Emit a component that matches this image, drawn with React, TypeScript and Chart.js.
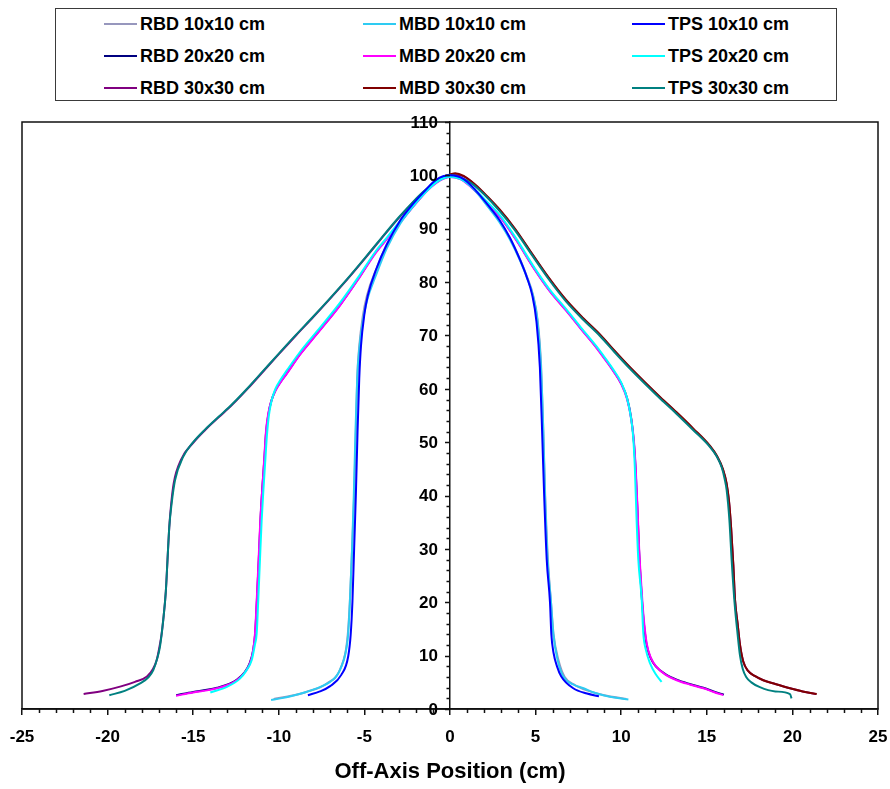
import React, { useEffect, useRef } from 'react';
import { Chart, registerables } from 'chart.js';

Chart.register(...registerables);

const FONT = "'Liberation Sans', Arial, Helvetica, sans-serif";

// ---- axes / tick labels ----
const xTickStep = 5;
const xMin = -25;
const xMax = 25;
const yTickStep = 10;
const yMin = 0;
const yMax = 110;
const xTitle = 'Off-Axis Position (cm)';

// ---- series (x cm, relative dose %) ----
const rbd10: [number, number][] = [
  [-10.3, 1.9], [-9.4, 2.4], [-8.4, 3.2], [-7.2, 4.8], [-6.4, 7.6], [-6.0, 13], [-5.85, 20], [-5.72, 30], [-5.6, 40],
  [-5.5, 52], [-5.42, 62], [-5.3, 68], [-5.1, 73.5], [-4.85, 77.5], [-4.3, 82.5], [-3.7, 87], [-2.9, 91.5], [-2.2, 94.4],
  [-1.5, 96.9], [-0.8, 99], [0, 100], [0.8, 99.1], [1.5, 97], [2.2, 94.3], [2.9, 91.4], [3.5, 88.2], [4.1, 84.2],
  [4.5, 81.0], [4.85, 77.6], [5.12, 72.8], [5.32, 64.5], [5.46, 51], [5.56, 40], [5.72, 28], [5.9, 20], [6.05, 14],
  [6.35, 9], [6.7, 6], [7.3, 4.5], [8.0, 3.5], [9.0, 2.6], [10.3, 1.9],
];
const mbd10: [number, number][] = [
  [-10.45, 1.7], [-9.9, 2.0], [-9.3, 2.4], [-8.4, 3.2], [-7.6, 4.1], [-7.0, 5.1], [-6.6, 6.3], [-6.35, 7.9], [-6.1, 10.5],
  [-5.95, 14], [-5.85, 20], [-5.72, 30], [-5.62, 40], [-5.52, 52], [-5.42, 62], [-5.3, 67.5], [-5.1, 72.5], [-4.85, 76.5],
  [-4.3, 81.5], [-3.7, 86.3], [-2.9, 91], [-2.2, 94], [-1.5, 96.6], [-0.8, 98.7], [0, 99.7], [0.8, 99], [1.5, 97],
  [2.2, 94.2], [2.9, 91.2], [3.5, 88], [4.1, 84], [4.5, 80.8], [4.85, 77.4], [5.1, 73], [5.3, 65], [5.45, 52], [5.55, 40],
  [5.7, 28], [5.9, 20], [6.03, 14.2], [6.3, 9], [6.62, 6.1], [7.2, 4.6], [7.8, 3.9], [8.4, 3.1], [8.95, 2.6], [9.7, 2.1],
  [10.42, 1.8],
];
const tps10: [number, number][] = [
  [-8.3, 2.6], [-7.6, 3.3], [-7.0, 4.3], [-6.35, 6.4], [-5.95, 9.8], [-5.8, 14], [-5.7, 20], [-5.6, 30], [-5.5, 40],
  [-5.4, 52], [-5.3, 62], [-5.2, 68], [-5.0, 74], [-4.8, 77.5], [-4.3, 82.5], [-3.7, 87], [-2.9, 91.6], [-2.2, 94.5],
  [-1.5, 97], [-0.8, 99.2], [0, 100], [0.8, 99.3], [1.5, 97.2], [2.2, 94.5], [2.9, 91.6], [3.5, 88.3], [4.1, 84.1],
  [4.5, 80.8], [4.8, 77.6], [5.05, 72.6], [5.25, 64], [5.4, 50], [5.5, 40], [5.65, 28], [5.84, 20], [5.92, 14],
  [6.05, 10.5], [6.25, 8], [6.5, 6.1], [7.2, 3.9], [8.0, 2.9], [8.7, 2.4],
];
const rbd20: [number, number][] = [
  [-16.0, 2.6], [-15.0, 3.2], [-14.2, 3.6], [-13.6, 4.0], [-12.9, 4.7], [-12.46, 5.5], [-12.0, 6.9], [-11.7, 8.6],
  [-11.5, 11], [-11.38, 14.2], [-11.28, 20.4], [-11.17, 28], [-11.07, 35.4], [-10.95, 42], [-10.84, 47], [-10.74, 52],
  [-10.6, 55.4], [-10.44, 57.7], [-10.2, 59.7], [-9.9, 61.3], [-9.54, 62.9], [-8.76, 66.5], [-7.79, 70.3], [-6.43, 75.7],
  [-5.3, 80.9], [-4.38, 85.4], [-3.7, 88.1], [-2.9, 91.3], [-2.0, 94.8], [-1.3, 97.3], [-0.6, 99.1], [0, 99.8],
  [0.6, 99.4], [1.3, 97.7], [2.0, 95.5], [2.92, 92.3], [3.9, 87.8], [4.87, 82.8], [5.8, 78.5], [6.82, 74.6], [7.7, 71.1],
  [8.57, 67.7], [9.1, 65.4], [9.54, 63.4], [10.0, 61.0], [10.35, 58.2], [10.6, 54.2], [10.74, 50], [10.84, 45],
  [10.94, 38], [11.04, 30], [11.18, 22], [11.27, 18], [11.47, 12.3], [11.73, 9.5], [12.05, 7.9], [12.6, 6.5],
  [13.24, 5.5], [14.0, 4.7], [14.8, 4.0], [15.4, 3.3], [16.0, 2.7],
];
const mbd20: [number, number][] = [
  [-16.0, 2.5], [-15.0, 3.1], [-14.2, 3.5], [-13.6, 3.9], [-12.9, 4.6], [-12.46, 5.4], [-12.0, 6.8], [-11.68, 8.6],
  [-11.5, 11], [-11.39, 14.2], [-11.29, 20.4], [-11.18, 28], [-11.08, 35.4], [-10.95, 42], [-10.85, 47], [-10.75, 52],
  [-10.62, 55.3], [-10.45, 57.6], [-10.2, 59.6], [-9.9, 61.2], [-9.54, 62.8], [-8.76, 66.4], [-7.79, 70.2],
  [-6.43, 75.6], [-5.3, 80.8], [-4.38, 85.3], [-3.7, 88], [-2.9, 91.2], [-2.0, 94.7], [-1.3, 97.2], [-0.6, 99],
  [0, 99.7], [0.6, 99.3], [1.3, 97.6], [2.0, 95.4], [2.92, 92.2], [3.9, 87.7], [4.87, 82.7], [5.8, 78.4], [6.82, 74.5],
  [7.7, 71], [8.57, 67.6], [9.1, 65.3], [9.54, 63.3], [10.0, 60.9], [10.35, 58], [10.6, 54], [10.75, 50], [10.85, 45],
  [10.95, 38], [11.05, 30], [11.2, 22], [11.29, 18], [11.49, 12.3], [11.75, 9.5], [12.07, 7.9], [12.6, 6.4],
  [13.24, 5.4], [14.0, 4.6], [14.8, 3.9], [15.4, 3.2], [15.96, 2.6],
];
const tps20: [number, number][] = [
  [-14.0, 3.1], [-13.0, 4.2], [-12.27, 5.7], [-11.9, 7.2], [-11.58, 9.2], [-11.4, 12], [-11.29, 14.2], [-11.2, 20.4],
  [-11.1, 28], [-11.0, 35.4], [-10.9, 41], [-10.8, 46], [-10.7, 51], [-10.58, 55], [-10.42, 57.8], [-10.2, 60],
  [-9.9, 61.7], [-9.54, 63.4], [-8.76, 66.9], [-7.79, 70.7], [-6.43, 76.1], [-5.3, 81.2], [-4.38, 85.6], [-3.7, 88.3],
  [-2.9, 91.5], [-2.0, 94.9], [-1.3, 97.3], [-0.6, 99.2], [0, 99.8], [0.6, 99.4], [1.3, 97.8], [2.0, 95.6],
  [2.92, 92.5], [3.9, 88], [4.87, 83], [5.8, 78.7], [6.82, 74.8], [7.7, 71.3], [8.57, 67.9], [9.1, 65.6], [9.54, 63.6],
  [10.0, 61.2], [10.32, 58.5], [10.55, 55], [10.7, 51], [10.8, 45], [10.9, 35.4], [11.0, 28], [11.2, 20.4],
  [11.29, 14.2], [11.45, 11], [11.68, 8.6], [12.0, 6.6], [12.36, 5.1],
];
const rbd30: [number, number][] = [
  [-21.4, 2.8], [-20.3, 3.4], [-19.27, 4.2], [-18.4, 5.1], [-17.7, 6.1], [-17.35, 7.5], [-17.13, 9.2], [-16.95, 12],
  [-16.84, 14.2], [-16.75, 16.7], [-16.6, 22], [-16.5, 28], [-16.4, 34], [-16.3, 38], [-16.14, 42.3], [-15.7, 46.8],
  [-15.0, 49.9], [-14.3, 52.3], [-13.5, 54.7], [-12.7, 57.1], [-11.8, 60.1], [-10.9, 63.3], [-10.0, 66.5],
  [-9.0, 70.0], [-8.0, 73.4], [-7.0, 76.9], [-6.0, 80.5], [-5.0, 84.3], [-4.0, 88.2], [-3.0, 92.0], [-2.2, 94.8],
  [-1.5, 97.0], [-0.8, 98.9], [0, 100.1], [0.8, 99.8], [1.5, 98.1], [2.2, 95.9], [2.9, 93.5], [3.8, 89.9], [4.8, 85.2],
  [5.8, 80.6], [6.8, 76.5], [7.8, 73.1], [8.76, 70.1], [9.6, 67.1], [10.5, 64.0], [11.4, 61.1], [12.3, 58.3],
  [13.24, 55.5], [14.2, 52.5], [15.19, 49.2], [15.6, 47.3], [15.95, 44.8], [16.15, 42.3], [16.3, 38.8], [16.42, 34],
  [16.55, 27], [16.65, 20.4], [16.8, 16], [16.94, 12], [17.13, 8.9], [17.4, 7.2], [17.8, 6.2], [18.3, 5.4],
  [19.0, 4.7], [19.86, 3.9], [20.6, 3.3], [21.4, 2.8],
];
const mbd30: [number, number][] = [
  [0, 100.2], [0.3, 100.4], [0.8, 99.9], [1.5, 98.2], [2.2, 96.0], [2.9, 93.6], [3.8, 90.0], [4.8, 85.3], [5.8, 80.7],
  [6.8, 76.6], [7.8, 73.2], [8.76, 70.2], [9.6, 67.2], [10.5, 64.1], [11.4, 61.2], [12.3, 58.4], [13.24, 55.6],
  [14.2, 52.6], [15.19, 49.3], [15.6, 47.4], [15.95, 44.9], [16.15, 42.4], [16.3, 38.9], [16.42, 34], [16.55, 27],
  [16.65, 20.4], [16.8, 16], [16.94, 12], [17.13, 8.9], [17.4, 7.2], [17.8, 6.2], [18.3, 5.4], [19.0, 4.7],
  [19.86, 3.9], [20.6, 3.3], [21.42, 2.8],
];
const tps30: [number, number][] = [
  [-19.9, 2.6], [-19.0, 3.4], [-18.1, 4.8], [-17.6, 6], [-17.33, 7.3], [-17.1, 9.5], [-16.94, 11.7], [-16.75, 16.7],
  [-16.6, 22], [-16.5, 28], [-16.4, 34], [-16.26, 38.5], [-16.06, 42.9], [-15.58, 47.3], [-15.0, 50.0], [-14.3, 52.4],
  [-13.5, 54.8], [-12.7, 57.2], [-11.8, 60.2], [-10.9, 63.4], [-10.0, 66.6], [-9.0, 70.1], [-8.0, 73.5], [-7.0, 77.0],
  [-6.0, 80.6], [-5.0, 84.4], [-4.0, 88.3], [-3.0, 92.1], [-2.2, 94.9], [-1.5, 97.1], [-0.8, 98.9], [0, 100],
  [0.6, 99.6], [1.3, 98.4], [2.0, 96.4], [2.9, 93.3], [3.8, 89.7], [4.8, 85.0], [5.8, 80.4], [6.8, 76.3], [7.8, 72.9],
  [8.76, 69.9], [9.6, 66.9], [10.5, 63.8], [11.4, 60.9], [12.3, 58.1], [13.24, 55.3], [14.2, 52.3], [15.19, 49.1],
  [15.55, 47.5], [15.87, 45.3], [16.05, 43], [16.16, 41], [16.32, 35.4], [16.45, 28], [16.62, 20], [16.8, 14],
  [16.94, 10], [17.1, 7.5], [17.3, 6.0], [17.6, 5.0], [18.1, 4.1], [19.0, 3.3], [19.86, 2.8], [19.95, 2.0],
];

const seriesNames = [
  'RBD 10x10 cm', 'MBD 10x10 cm', 'TPS 10x10 cm',
  'RBD 20x20 cm', 'MBD 20x20 cm', 'TPS 20x20 cm',
  'RBD 30x30 cm', 'MBD 30x30 cm', 'TPS 30x30 cm',
];
const seriesColors = [
  '#9797bd', '#2ecbf2', '#0000ff',
  '#000080', '#ff00ff', '#00ffff',
  '#800080', '#800000', '#008080',
];
const seriesPoints = [rbd10, mbd10, tps10, rbd20, mbd20, tps20, rbd30, mbd30, tps30];
// lower order = drawn on top
const seriesOrder = [2, 1, 0, 2, 1, 0, 2, 1, 0];

const framePlugin = {
  id: 'frameAndTicks',
  afterDraw(chart: any) {
    const { ctx, chartArea: a, scales } = chart;
    const xs = scales.x;
    const ys = scales.y;
    ctx.save();
    ctx.strokeStyle = '#111';
    ctx.lineWidth = 1.5;
    ctx.strokeRect(a.left, a.top, a.right - a.left, a.bottom - a.top);
    ctx.beginPath();
    for (let v = xMin; v <= xMax; v += 1) {
      if (v % xTickStep === 0) continue;
      const px = Math.round(xs.getPixelForValue(v)) + 0.5;
      ctx.moveTo(px, a.bottom);
      ctx.lineTo(px, a.bottom + 4);
    }
    const x0 = xs.getPixelForValue(0);
    for (let v = yMin; v <= yMax; v += 2) {
      const py = Math.round(ys.getPixelForValue(v)) + 0.5;
      const len = v % yTickStep === 0 ? 5 : 3.5;
      ctx.moveTo(x0 - len, py);
      ctx.lineTo(x0, py);
    }
    ctx.stroke();
    // y tick labels, left of the centred y axis
    ctx.fillStyle = '#000';
    ctx.font = `bold 17px ${FONT}`;
    ctx.textAlign = 'right';
    ctx.textBaseline = 'middle';
    ys.ticks.forEach((t: any) => {
      ctx.fillText(String(t.label ?? t.value), x0 - 12, ys.getPixelForValue(t.value) + 1);
    });
    ctx.restore();
  },
};

function Legend() {
  const colX = [104, 363, 632];
  const rowY = [24, 56, 88];
  return (
    <div
      style={{
        position: 'absolute', left: 55, top: 8, width: 782, height: 93,
        border: '1px solid #3a3a3a', boxSizing: 'border-box', background: '#fff',
      }}
    >
      {seriesNames.map((name, i) => {
        const c = i % 3;
        const r = Math.floor(i / 3);
        return (
          <div
            key={name}
            style={{
              position: 'absolute', left: colX[c] - 56, top: rowY[r] - 9 - 11, height: 22,
              display: 'flex', alignItems: 'center', whiteSpace: 'nowrap',
            }}
          >
            <span style={{ display: 'inline-block', width: 33, height: 2, background: seriesColors[i], marginRight: 3 }} />
            <span style={{ fontFamily: FONT, fontWeight: 'bold', fontSize: 18, color: '#000', lineHeight: '22px' }}>{name}</span>
          </div>
        );
      })}
    </div>
  );
}

export default function App() {
  const ref = useRef<HTMLCanvasElement>(null);
  useEffect(() => {
    const chart = new Chart(ref.current as HTMLCanvasElement, {
      type: 'scatter',
      data: {
        datasets: seriesNames.map((name, i) => ({
          label: name,
          data: seriesPoints[i].map(([x, y]) => ({ x, y })),
          borderColor: seriesColors[i],
          backgroundColor: seriesColors[i],
          borderWidth: 2,
          showLine: true,
          pointRadius: 0,
          pointHoverRadius: 0,
          cubicInterpolationMode: 'monotone',
          borderJoinStyle: 'round',
          order: seriesOrder[i],
        })) as any,
      },
      options: {
        responsive: false,
        animation: false,
        devicePixelRatio: 1,
        layout: { padding: { left: 22, right: 12, top: 122, bottom: 0 } },
        plugins: { legend: { display: false }, tooltip: { enabled: false } },
        scales: {
          x: {
            type: 'linear', min: xMin, max: xMax, position: 'bottom',
            ticks: {
              stepSize: xTickStep, autoSkip: false, maxRotation: 0, color: '#000', padding: 2,
              font: { family: FONT, size: 17, weight: 'bold', lineHeight: 2.35 },
            },
            grid: { display: true, drawOnChartArea: false, drawTicks: true, tickLength: 6, color: '#111', lineWidth: 1.5 },
            border: { display: true, color: '#111', width: 1.5 },
            title: {
              display: true, text: xTitle, color: '#000',
              font: { family: FONT, size: 22, weight: 'bold' }, padding: { top: 0, bottom: 3.6 },
            },
          },
          y: {
            type: 'linear', min: yMin, max: yMax, position: { x: 0 } as any,
            ticks: { stepSize: yTickStep, display: false, font: { family: FONT, size: 17, weight: 'bold' } },
            grid: { display: true, drawOnChartArea: false, drawTicks: false, color: 'rgba(0,0,0,0)' },
            border: { display: true, color: '#111', width: 1.5 },
          },
        },
      } as any,
      plugins: [framePlugin],
    });
    return () => chart.destroy();
  }, []);
  return (
    <div style={{ position: 'absolute', left: 0, top: 0, width: 890, height: 789, background: '#fff' }}>
      <canvas ref={ref} width={890} height={789} style={{ position: 'absolute', left: 0, top: 0 }} />
      <Legend />
    </div>
  );
}
